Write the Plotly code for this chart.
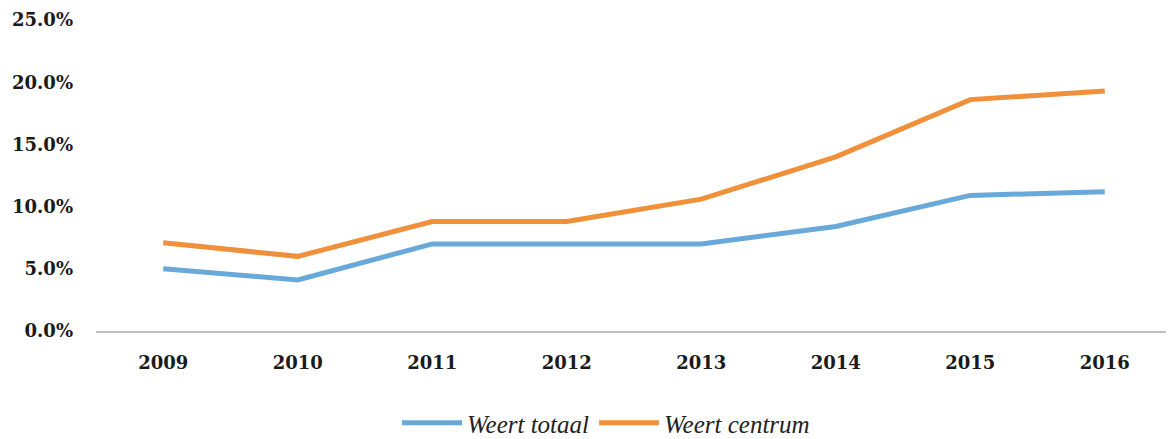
import plotly.graph_objects as go

years = ["2009", "2010", "2011", "2012", "2013", "2014", "2015", "2016"]
weert_totaal = [5.0, 4.1, 7.0, 7.0, 7.0, 8.4, 10.9, 11.2]
weert_centrum = [7.1, 6.0, 8.8, 8.8, 10.6, 14.0, 18.6, 19.3]
y_ticks = [0, 5, 10, 15, 20, 25]
y_tick_labels = ["0.0%", "5.0%", "10.0%", "15.0%", "20.0%", "25.0%"]

fig = go.Figure()
fig.add_trace(go.Scatter(x=years, y=weert_totaal, mode="lines", name="Weert totaal",
                         line=dict(color="#68A9DA", width=5)))
fig.add_trace(go.Scatter(x=years, y=weert_centrum, mode="lines", name="Weert centrum",
                         line=dict(color="#F0903A", width=5)))

tick_font = dict(family="DejaVu Serif", size=18, color="#1a1a1a", weight="bold")

fig.update_layout(
    width=1166, height=431,
    margin=dict(l=88, r=2, t=12, b=108, autoexpand=False),
    paper_bgcolor="white", plot_bgcolor="white",
    showlegend=True,
    legend=dict(orientation="h", x=0.474, xanchor="center", y=-0.222, yanchor="top",
                font=dict(family="Liberation Serif", size=25, color="#222", style="italic"),
                itemwidth=60, tracegroupgap=0),
    xaxis=dict(type="category", range=[-0.5, 7.5], showgrid=False, showline=True,
               linecolor="#BFBFBF", linewidth=2, ticks="", ticklabelstandoff=14,
               tickfont=tick_font),
    yaxis=dict(range=[0, 25], tickvals=y_ticks, ticktext=y_tick_labels, showgrid=False,
               zeroline=False, showline=False, ticks="", ticklabelstandoff=22,
               tickfont=tick_font),
)

fig.write_html("out.html")
